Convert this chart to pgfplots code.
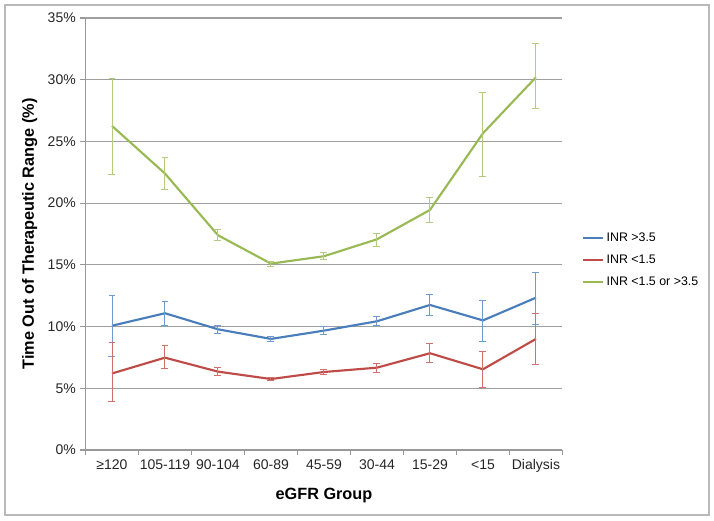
\documentclass[border=0pt]{standalone}
\usepackage{pgfplots}
\usepackage{pgfplotstable}
\pgfplotsset{compat=1.18}
\usepackage{fontspec}
\setmainfont{Liberation Sans}
\definecolor{cblue}{HTML}{4A7EBB}
\definecolor{cblueL}{HTML}{6F9AD0}
\definecolor{cred}{HTML}{BE4B48}
\definecolor{credL}{HTML}{D0706D}
\definecolor{cgreen}{HTML}{98B954}
\definecolor{cgreenL}{HTML}{B2CC7E}

\pgfplotstableread{
x y ep em
0 10.07 2.41 2.47
1 11.08 0.97 0.98
2 9.78 0.30 0.30
3 9.00 0.20 0.20
4 9.67 0.30 0.30
5 10.43 0.35 0.35
6 11.75 0.87 0.81
7 10.50 1.63 1.72
8 12.34 2.06 2.15
}\tblblue
\pgfplotstableread{
x y ep em
0 6.20 2.50 2.30
1 7.48 0.95 0.86
2 6.35 0.35 0.35
3 5.75 0.15 0.15
4 6.32 0.20 0.20
5 6.67 0.35 0.35
6 7.84 0.81 0.74
7 6.54 1.43 1.49
8 9.00 2.08 2.05
}\tblred
\pgfplotstableread{
x y ep em
0 26.26 3.84 3.96
1 22.40 1.30 1.30
2 17.40 0.50 0.40
3 15.10 0.20 0.20
4 15.70 0.30 0.30
5 17.07 0.49 0.57
6 19.45 1.00 1.00
7 25.66 3.29 3.46
8 30.20 2.70 2.50
}\tblgreen

\pgfplotsset{
  ebar/.style={
    error bars/.cd, y dir=both, y explicit,
    error mark=-,
    error bar style={#1, line width=0.7pt},
    error mark options={#1, line width=0.7pt, mark size=2.6pt, solid, rotate=90}
  }
}

\begin{document}
\begin{tikzpicture}
\path[use as bounding box] (0pt,0pt) rectangle (535.5pt,390.75pt);
\draw[gray!55, line width=0.8pt] (3.75pt,4.5pt) rectangle (531.75pt,387pt);
\begin{axis}[
  at={(64.1pt,53.25pt)}, anchor=south west,
  scale only axis, width=357.75pt, height=324pt,
  xmin=-0.5, xmax=8.5, ymin=0, ymax=35,
  axis x line*=bottom, axis y line*=left,
  axis line style={-, draw=gray!80, line width=0.8pt},
  tick align=outside,
  xtick={0,...,8},
  xticklabels={≥120,105-119,90-104,60-89,45-59,30-44,15-29,<15,Dialysis},
  major x tick style={draw=none},
  minor xtick={-0.5,0.5,...,8.5},
  minor tick length=3.75pt, major tick length=3.75pt,
  tick style={gray!80, line width=0.8pt},
  ytick={0,5,...,35},
  yticklabels={0\%,5\%,10\%,15\%,20\%,25\%,30\%,35\%},
  ymajorgrids, grid style={gray!75, line width=0.8pt},
  tick label style={font=\fontsize{10.5}{12}\selectfont, text=black!85},
  xlabel={\textbf{eGFR Group}},
  ylabel={\textbf{Time Out of Therapeutic Range (\%)}},
  label style={font=\fontsize{12.2}{14}\selectfont},
  xlabel style={at={(axis description cs:0.5,-0.105)}, anchor=center},
  ylabel style={at={(axis description cs:-0.117,0.5)}, anchor=center},
  legend style={at={(axis description cs:1.04,0.44)}, anchor=west, draw=none, fill=none,
    font=\fontsize{9.3}{11}\selectfont, inner sep=0pt, row sep=4.5pt},
  legend cell align=left,
  legend image code/.code={\draw[#1] (0pt,0pt) -- (15pt,0pt);},
  clip=false,
]
\addplot[cblue, line width=1.6pt, forget plot, ebar=cblueL]
  table[x=x, y=y, y error plus=ep, y error minus=em] {\tblblue};
\addplot[cred, line width=1.6pt, forget plot, ebar=credL]
  table[x=x, y=y, y error plus=ep, y error minus=em] {\tblred};
\addplot[cgreen, line width=1.6pt, forget plot, ebar=cgreenL]
  table[x=x, y=y, y error plus=ep, y error minus=em] {\tblgreen};
\addlegendimage{cblue, line width=1.6pt}
\addlegendentry{INR >3.5}
\addlegendimage{cred, line width=1.6pt}
\addlegendentry{INR <1.5}
\addlegendimage{cgreen, line width=1.6pt}
\addlegendentry{INR <1.5 or >3.5}
\end{axis}
\end{tikzpicture}
\end{document}
